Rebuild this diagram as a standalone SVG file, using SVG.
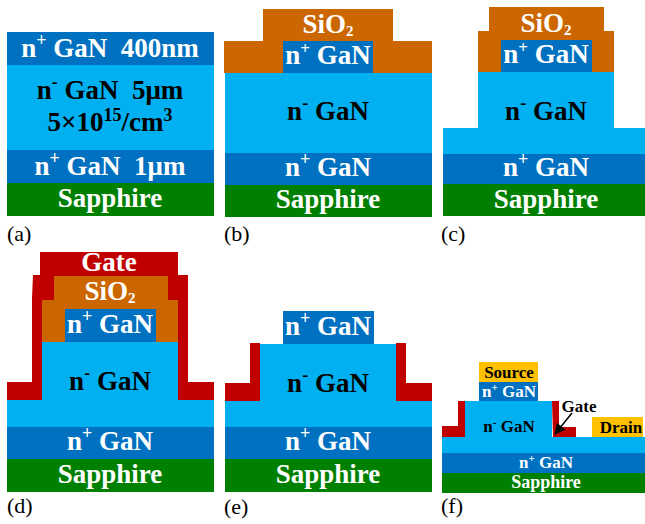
<svg xmlns="http://www.w3.org/2000/svg" width="645" height="524" viewBox="0 0 645 524">
<style>
text{font-family:"Liberation Serif","Times New Roman",serif}
.t{font-weight:bold;font-size:27px;text-anchor:middle}
.w{fill:#fff}.k{fill:#000}
.s{font-size:18px}
.b{font-size:15px}
.p{font-size:17px}
.l{font-size:22px;fill:#000}
.f{font-weight:bold;font-size:17px;text-anchor:middle}
.h{fill:#0070c0}.n{fill:#00b0f0}.g{fill:#008000}.o{fill:#cc6600}.r{fill:#c00000}.y{fill:#ffc000}
</style>
<defs>
<marker id="ah" viewBox="0 0 10 10" refX="9" refY="5" markerWidth="12" markerHeight="11" markerUnits="userSpaceOnUse" orient="auto"><path d="M0 0L10 5L0 10z" fill="#000"/></marker>
</defs>
<rect width="645" height="524" fill="#fff"/>
<g id="panel-a">
<rect class="h" x="7" y="32" width="207" height="33"/>
<rect class="n" x="7" y="65" width="207" height="85"/>
<rect class="h" x="7" y="150" width="207" height="33"/>
<rect class="g" x="7" y="183" width="207" height="33"/>
<text class="t w" x="110" y="57" xml:space="preserve">n<tspan class="s" dy="-11">+</tspan><tspan dy="11"> GaN  400nm</tspan></text>
<text class="t k" x="110" y="99" xml:space="preserve">n<tspan class="s" dy="-11">-</tspan><tspan dy="11"> GaN  5μm</tspan></text>
<text class="t k" x="110" y="131">5×10<tspan class="s" dy="-10">15</tspan><tspan dy="10">/cm</tspan><tspan class="s" dy="-10">3</tspan></text>
<text class="t w" x="110" y="175" xml:space="preserve">n<tspan class="s" dy="-11">+</tspan><tspan dy="11"> GaN  1μm</tspan></text>
<text class="t w" x="110" y="207">Sapphire</text>
<text class="l" x="7" y="241">(a)</text>
</g>
<g id="panel-b">
<rect class="o" x="263" y="9" width="130" height="32"/>
<rect class="o" x="224" y="41" width="208" height="32"/>
<rect class="h" x="283" y="41" width="90" height="32"/>
<rect class="n" x="225" y="73" width="207" height="80"/>
<rect class="h" x="225" y="153" width="207" height="32"/>
<rect class="g" x="225" y="185" width="207" height="32"/>
<text class="t w" x="328" y="33">SiO<tspan class="b" dy="3">2</tspan></text>
<text class="t w" x="328" y="64">n<tspan class="p" dy="-10">+</tspan><tspan dy="10"> GaN</tspan></text>
<text class="t k" x="328" y="120">n<tspan class="s" dy="-11">-</tspan><tspan dy="11"> GaN</tspan></text>
<text class="t w" x="328" y="176">n<tspan class="s" dy="-11">+</tspan><tspan dy="11"> GaN</tspan></text>
<text class="t w" x="328" y="208">Sapphire</text>
<text class="l" x="224" y="241">(b)</text>
</g>
<g id="panel-c">
<rect class="o" x="489" y="7" width="115" height="24"/>
<rect class="o" x="478" y="31" width="136" height="41"/>
<rect class="h" x="501" y="40" width="91" height="32"/>
<rect class="n" x="478" y="72" width="136" height="56"/>
<rect class="n" x="443" y="128" width="202" height="26"/>
<rect class="h" x="443" y="154" width="202" height="30"/>
<rect class="g" x="443" y="184" width="202" height="32"/>
<text class="t w" x="546" y="32">SiO<tspan class="b" dy="3">2</tspan></text>
<text class="t w" x="546" y="63">n<tspan class="p" dy="-10">+</tspan><tspan dy="10"> GaN</tspan></text>
<text class="t k" x="546" y="120">n<tspan class="s" dy="-11">-</tspan><tspan dy="11"> GaN</tspan></text>
<text class="t w" x="546" y="176">n<tspan class="s" dy="-11">+</tspan><tspan dy="11"> GaN</tspan></text>
<text class="t w" x="546" y="208">Sapphire</text>
<text class="l" x="441" y="241">(c)</text>
</g>
<g id="panel-d">
<path class="r" d="M40 252H178V275H188V382H214V400H178V342H43V400H7V382H32V298L33 275H40z"/>
<rect class="o" x="54" y="276" width="114" height="24"/>
<rect class="o" x="42" y="300" width="136" height="42"/>
<rect class="h" x="65" y="309" width="91" height="33"/>
<rect class="n" x="42" y="342" width="136" height="58"/>
<rect class="n" x="7" y="400" width="207" height="27"/>
<rect class="h" x="7" y="427" width="207" height="32"/>
<rect class="g" x="7" y="459" width="207" height="33"/>
<text class="t w" x="109" y="271">Gate</text>
<text class="t w" x="110" y="300">SiO<tspan class="b" dy="3">2</tspan></text>
<text class="t w" x="110" y="333">n<tspan class="s" dy="-11">+</tspan><tspan dy="11"> GaN</tspan></text>
<text class="t k" x="110" y="390">n<tspan class="s" dy="-11">-</tspan><tspan dy="11"> GaN</tspan></text>
<text class="t w" x="110" y="450">n<tspan class="s" dy="-11">+</tspan><tspan dy="11"> GaN</tspan></text>
<text class="t w" x="110" y="483">Sapphire</text>
<text class="l" x="7" y="513">(d)</text>
</g>
<g id="panel-e">
<rect class="h" x="283" y="311" width="91" height="33"/>
<path class="r" d="M250 343H260V401H225V383H250z"/>
<path class="r" d="M396 343H406V383H432V401H396z"/>
<rect class="n" x="260" y="344" width="136" height="57"/>
<rect class="n" x="225" y="401" width="207" height="26"/>
<rect class="h" x="225" y="427" width="207" height="32"/>
<rect class="g" x="225" y="459" width="207" height="33"/>
<text class="t w" x="328" y="335">n<tspan class="s" dy="-11">+</tspan><tspan dy="11"> GaN</tspan></text>
<text class="t k" x="328" y="392">n<tspan class="s" dy="-11">-</tspan><tspan dy="11"> GaN</tspan></text>
<text class="t w" x="328" y="450">n<tspan class="s" dy="-11">+</tspan><tspan dy="11"> GaN</tspan></text>
<text class="t w" x="328" y="483">Sapphire</text>
<text class="l" x="224" y="514">(e)</text>
</g>
<g id="panel-f">
<rect class="y" x="479" y="362" width="59" height="20"/>
<rect class="h" x="479" y="382" width="59" height="19"/>
<path class="r" d="M458 401H465V437H442V426H458z"/>
<path class="r" d="M552 401H559V427H576V437H553z"/>
<rect class="n" x="465" y="401" width="87" height="36"/>
<rect class="y" x="592" y="417" width="51" height="20"/>
<rect class="n" x="442" y="437" width="203" height="16"/>
<rect class="h" x="442" y="453" width="203" height="20"/>
<rect class="g" x="442" y="473" width="203" height="20"/>
<text class="f k" x="509" y="378">Source</text>
<text class="f w" x="509" y="397">n<tspan font-size="11" dy="-6">+</tspan><tspan dy="6"> GaN</tspan></text>
<text class="f k" x="509" y="432">n<tspan font-size="11" dy="-6">-</tspan><tspan dy="6"> GaN</tspan></text>
<text class="f k" x="579" y="412">Gate</text>
<text class="f k" x="621" y="433">Drain</text>
<text class="f w" x="546" y="468">n<tspan font-size="11" dy="-6">+</tspan><tspan dy="6"> GaN</tspan></text>
<text class="f w" x="546" y="488" style="font-size:18px">Sapphire</text>
<text class="l" x="441" y="513">(f)</text>
</g>
<g id="connectors">
<line x1="572" y1="413" x2="555" y2="434" stroke="#000" stroke-width="1.5" marker-end="url(#ah)"/>
</g>
</svg>
